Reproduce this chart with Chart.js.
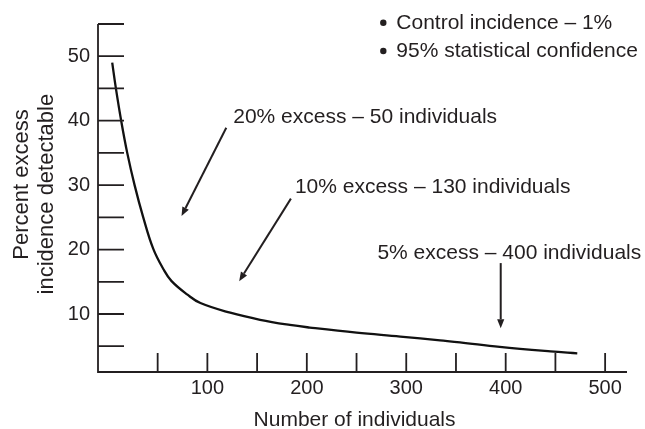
<!DOCTYPE html>
<html>
<head>
<meta charset="utf-8">
<script src="https://cdn.jsdelivr.net/npm/chart.js@4.4.1/dist/chart.umd.min.js"></script>
<style>
  html, body { margin: 0; padding: 0; background: #fff; }
  #wrap { width: 645px; height: 429px; }
</style>
</head>
<body>
<div id="wrap"><canvas id="chart"></canvas></div>
<script>
// values
const individuals = [4.3, 8, 13.3, 19.4, 26.8, 35.5, 45.6, 56, 64, 80, 93, 123, 153, 183, 203, 250, 294, 334, 354, 394, 445, 472];
const excessPct   = [49.0, 45.0, 40.0, 35.0, 30.0, 25.0, 20.1, 16.9, 15.1, 13.0, 11.7, 10.2, 9.1, 8.3, 7.9, 7.1, 6.5, 5.9, 5.6, 4.9, 4.2, 3.9];

const xTickLabels = [100, 200, 300, 400, 500];
const xTickMarks = [50, 100, 150, 200, 250, 300, 350, 400, 450, 500];
const yTickLabels = [10, 20, 30, 40, 50];
const yTickMarks = [5, 10, 15, 20, 25, 30, 35, 40, 45, 50, 55];

const xTitle = 'Number of individuals';
const yTitle = ['Percent excess', 'incidence detectable'];
const notes = ['Control incidence – 1%', '95% statistical confidence'];
const callouts = ['20% excess – 50 individuals', '10% excess – 130 individuals', '5% excess – 400 individuals'];

// where the notes and callouts sit, in data units
const notePos = [[290, 55.2], [290, 50.8]];
const calloutPos = [[126, 40.6], [188, 29.6], [271, 19.4]];
const arrowPos = [
  [[119, 38.9], [74, 25.2]],
  [[184, 27.9], [132, 15.1]],
  [[395, 17.9], [395, 7.8]]
];
const xTitleAt = 248;
const yTitleAt = [30.1, 28.6];

const ink = '#231f20';
const family = '"Liberation Sans", Arial, Helvetica, sans-serif';

function arrow(ctx, x1, y1, x2, y2) {
  const ang = Math.atan2(y2 - y1, x2 - x1);
  const len = 9, half = 3.6;
  const bx = x2 - Math.cos(ang) * len, by = y2 - Math.sin(ang) * len;
  ctx.beginPath();
  ctx.moveTo(x1, y1);
  ctx.lineTo(bx, by);
  ctx.stroke();
  ctx.beginPath();
  ctx.moveTo(x2, y2);
  ctx.lineTo(bx + Math.sin(ang) * half, by - Math.cos(ang) * half);
  ctx.lineTo(bx - Math.sin(ang) * half, by + Math.cos(ang) * half);
  ctx.closePath();
  ctx.fill();
}

const frame = {
  id: 'frame',
  afterDatasetsDraw(chart) {
    const { ctx, chartArea: a, scales: { x, y } } = chart;
    ctx.save();
    ctx.strokeStyle = ink;
    ctx.fillStyle = ink;
    ctx.lineWidth = 1.8;

    // axes
    ctx.beginPath();
    ctx.moveTo(a.left, a.top);
    ctx.lineTo(a.left, a.bottom);
    ctx.lineTo(a.right, a.bottom);
    ctx.stroke();

    // inside tick marks
    ctx.beginPath();
    yTickMarks.forEach(v => {
      const py = y.getPixelForValue(v);
      ctx.moveTo(a.left, py);
      ctx.lineTo(a.left + 26, py);
    });
    xTickMarks.forEach(v => {
      const px = x.getPixelForValue(v);
      ctx.moveTo(px, a.bottom);
      ctx.lineTo(px, a.bottom - 19);
    });
    ctx.stroke();

    // arrows
    ctx.lineWidth = 2;
    arrowPos.forEach(([p, q]) => {
      arrow(ctx, x.getPixelForValue(p[0]), y.getPixelForValue(p[1]),
                 x.getPixelForValue(q[0]), y.getPixelForValue(q[1]));
    });

    // texts
    ctx.font = '21px ' + family;
    ctx.textBaseline = 'middle';
    ctx.textAlign = 'left';
    callouts.forEach((t, i) => {
      ctx.fillText(t, x.getPixelForValue(calloutPos[i][0]), y.getPixelForValue(calloutPos[i][1]));
    });
    notes.forEach((t, i) => {
      const px = x.getPixelForValue(notePos[i][0]);
      const py = y.getPixelForValue(notePos[i][1]);
      ctx.beginPath();
      ctx.arc(px - 13, py, 3.2, 0, Math.PI * 2);
      ctx.fill();
      ctx.fillText(t, px, py);
    });

    // axis titles
    ctx.textAlign = 'center';
    ctx.fillText(xTitle, x.getPixelForValue(xTitleAt), 420);
    ctx.font = '22px ' + family;
    yTitle.forEach((t, i) => {
      ctx.save();
      ctx.translate(22 + i * 25, y.getPixelForValue(yTitleAt[i]));
      ctx.rotate(-Math.PI / 2);
      ctx.fillText(t, 0, 0);
      ctx.restore();
    });
    ctx.restore();
  }
};

new Chart(document.getElementById('chart'), {
  type: 'line',
  data: {
    datasets: [{
      data: individuals.map((n, i) => ({ x: n, y: excessPct[i] })),
      borderColor: '#111',
      borderWidth: 2.3,
      pointRadius: 0,
      fill: false,
      tension: 0.4
    }]
  },
  options: {
    responsive: true,
    maintainAspectRatio: false,
    animation: false,
    layout: { padding: { top: 24, right: 18, left: 0, bottom: 0 } },
    plugins: { legend: { display: false }, tooltip: { enabled: false } },
    scales: {
      x: {
        type: 'linear',
        min: -10,
        max: 522,
        afterBuildTicks: s => { s.ticks = xTickLabels.map(v => ({ value: v })); },
        afterFit: s => { s.height = 57; },
        grid: { display: false, drawTicks: false },
        border: { display: false },
        ticks: { color: ink, font: { size: 20, family }, padding: 4, maxRotation: 0, autoSkip: false }
      },
      y: {
        type: 'linear',
        min: 1,
        max: 55,
        afterBuildTicks: s => { s.ticks = yTickLabels.map(v => ({ value: v })); },
        afterFit: s => { s.width = 98; },
        grid: { display: false, drawTicks: false },
        border: { display: false },
        ticks: { color: ink, font: { size: 20, family }, padding: 8 }
      }
    }
  },
  plugins: [frame]
});
</script>
</body>
</html>
